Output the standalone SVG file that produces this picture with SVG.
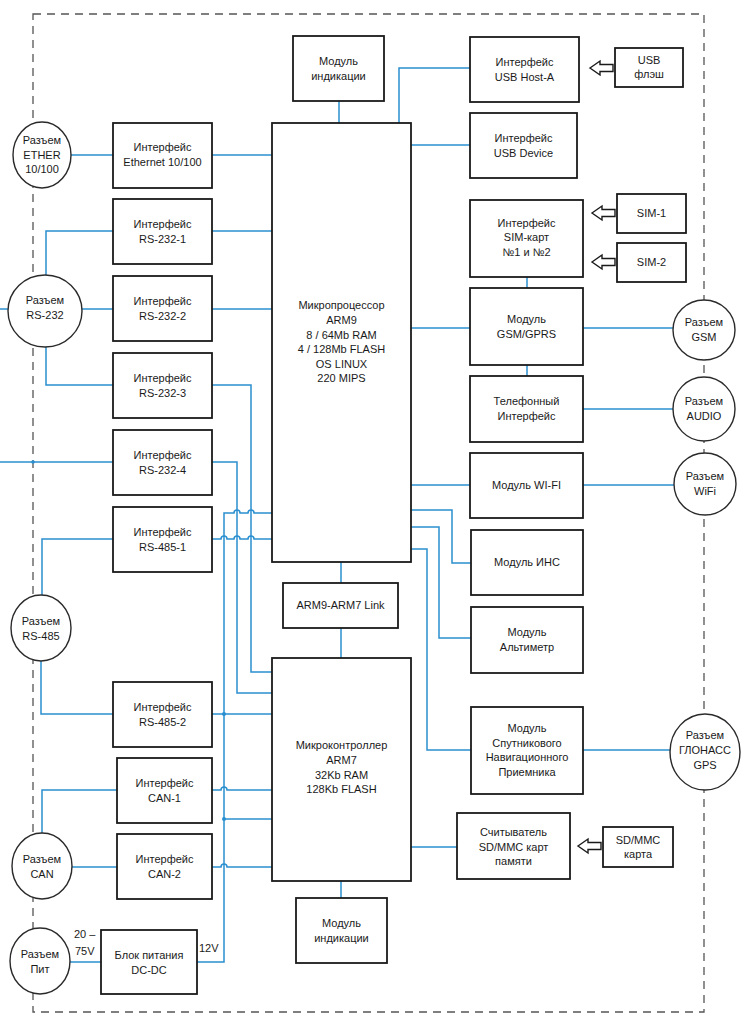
<svg xmlns="http://www.w3.org/2000/svg" xmlns:xlink="http://www.w3.org/1999/xlink" width="747" height="1024" viewBox="0 0 747 1024">
<style>
.box{fill:#fff;stroke:#1a1a1a;stroke-width:1.8}
.circ{fill:#fff;stroke:#2a2a2a;stroke-width:1.4}
.border{fill:none;stroke:#555;stroke-width:1.3;stroke-dasharray:8 6}
.w{fill:none;stroke:#2a8fd0;stroke-width:1.5}
.dot{fill:#2a8fd0}
.t{font-family:"Liberation Sans",Arial,sans-serif;font-size:11px;fill:#1a1a1a;text-anchor:middle}
.ts{font-family:"Liberation Sans",Arial,sans-serif;font-size:11px;fill:#1a1a1a;text-anchor:start}
.harrow{fill:#fff;stroke:#1a1a1a;stroke-width:1.4}
</style>
<defs>
<path id="harrow" class="harrow" d="M0,0 L10,-7 L10,-3.5 L23,-3.5 L23,3.5 L10,3.5 L10,7 Z"/>
</defs>
<rect width="747" height="1024" fill="#fff"/>
<rect id="border" class="border" x="33" y="14" width="671" height="998"/>

<g id="connectors">
<path class="w" d="M339,101 V123"/>
<path class="w" d="M470,68 H399 V123"/>
<path class="w" d="M470,145 H411"/>
<path class="w" d="M527,277 V288"/>
<path class="w" d="M527,365 V376"/>
<path class="w" d="M411,328 H470"/>
<path class="w" d="M583,328 H673"/>
<path class="w" d="M583,409 H673"/>
<path class="w" d="M411,485 H470"/>
<path class="w" d="M583,485 H674"/>
<path class="w" d="M411,510 H452 V563 H471"/>
<path class="w" d="M411,527 H439 V638 H471"/>
<path class="w" d="M411,549 H427 V750 H471"/>
<path class="w" d="M583,750 H670"/>
<path class="w" d="M411,847 H457"/>
<path class="w" d="M341,562 V583"/>
<path class="w" d="M341,628 V658"/>
<path class="w" d="M341,881 V898"/>
<path class="w" d="M71,155 H113"/>
<path class="w" d="M212,155 H272"/>
<path class="w" d="M113,231 H46 V275"/>
<path class="w" d="M82,309 H113"/>
<path class="w" d="M0,309 H8"/>
<path class="w" d="M46,347 V385 H113"/>
<path class="w" d="M0,462 H113"/>
<circle class="dot" cx="33" cy="462" r="1.8"/>
<path class="w" d="M212,231 H272"/>
<path class="w" d="M212,309 H272"/>
<path class="w" d="M212,385 H251 V672 H272"/>
<path class="w" d="M212,462 H237 V693 H272"/>
<path class="w" d="M113,539 H42 V595"/>
<path class="w" d="M41,661 V714 H113"/>
<path class="w" d="M212,539 H221 a3,3 0 0 1 6,0 H234 a3,3 0 0 1 6,0 H248 a3,3 0 0 1 6,0 H272"/>
<path class="w" d="M197,962 H224 V513 H234 a3,3 0 0 1 6,0 H248 a3,3 0 0 1 6,0 H272"/>
<path class="w" d="M212,714 H272"/>
<circle class="dot" cx="224" cy="714" r="2"/>
<path class="w" d="M224,819 H272"/>
<circle class="dot" cx="224" cy="819" r="2"/>
<path class="w" d="M117,790 H42 V833"/>
<path class="w" d="M212,790 H221 a3,3 0 0 1 6,0 H272"/>
<path class="w" d="M72,867 H117"/>
<path class="w" d="M212,867 H221 a3,3 0 0 1 6,0 H272"/>
<path class="w" d="M70,962 H101"/>
<use href="#harrow" x="590" y="68"/>
<use href="#harrow" x="592" y="213"/>
<use href="#harrow" x="592" y="262"/>
<use href="#harrow" x="578" y="846"/>
</g>

<g id="ind1"><rect class="box" x="293" y="36" width="91" height="65"/><text class="t" x="338.5" y="65">Модуль</text><text class="t" x="338.5" y="80">индикации</text></g>
<g id="usbA"><rect class="box" x="470" y="37" width="109" height="65"/><text class="t" x="524.5" y="66">Интерфейс</text><text class="t" x="524.5" y="81">USB Host-A</text></g>
<g id="usbF"><rect class="box" x="615" y="48" width="68" height="39"/><text class="t" x="649" y="64">USB</text><text class="t" x="649" y="78">флэш</text></g>
<g id="usbD"><rect class="box" x="470" y="113" width="107" height="65"/><text class="t" x="523.5" y="142">Интерфейс</text><text class="t" x="523.5" y="157">USB Device</text></g>
<g id="sim"><rect class="box" x="470" y="200" width="113" height="77"/><text class="t" x="526.5" y="227">Интерфейс</text><text class="t" x="526.5" y="241">SIM-карт</text><text class="t" x="526.5" y="256">№1 и №2</text></g>
<g id="sim1"><rect class="box" x="617" y="194" width="69" height="39"/><text class="t" x="651.5" y="217">SIM-1</text></g>
<g id="sim2"><rect class="box" x="617" y="243" width="69" height="39"/><text class="t" x="651.5" y="266">SIM-2</text></g>
<g id="gsm"><rect class="box" x="470" y="288" width="113" height="77"/><text class="t" x="526.5" y="323">Модуль</text><text class="t" x="526.5" y="338">GSM/GPRS</text></g>
<g id="tel"><rect class="box" x="470" y="376" width="113" height="66"/><text class="t" x="526.5" y="405">Телефонный</text><text class="t" x="526.5" y="420">Интерфейс</text></g>
<g id="wifi"><rect class="box" x="470" y="453" width="113" height="65"/><text class="t" x="526.5" y="489">Модуль WI-FI</text></g>
<g id="ins"><rect class="box" x="471" y="530" width="112" height="65"/><text class="t" x="527" y="566">Модуль ИНС</text></g>
<g id="alt"><rect class="box" x="471" y="607" width="112" height="66"/><text class="t" x="527" y="636">Модуль</text><text class="t" x="527" y="651">Альтиметр</text></g>
<g id="sat"><rect class="box" x="471" y="707" width="112" height="87"/><text class="t" x="527" y="732">Модуль</text><text class="t" x="527" y="747">Спутникового</text><text class="t" x="527" y="761">Навигационного</text><text class="t" x="527" y="776">Приемника</text></g>
<g id="sd"><rect class="box" x="457" y="813" width="113" height="66"/><text class="t" x="513.5" y="836">Считыватель</text><text class="t" x="513.5" y="851">SD/MMC карт</text><text class="t" x="513.5" y="865">памяти</text></g>
<g id="sdc"><rect class="box" x="603" y="827" width="70" height="40"/><text class="t" x="638" y="844">SD/MMC</text><text class="t" x="638" y="858">карта</text></g>

<g id="eth"><rect class="box" x="113" y="123" width="99" height="65"/><text class="t" x="162.5" y="151">Интерфейс</text><text class="t" x="162.5" y="166">Ethernet 10/100</text></g>
<g id="rs1"><rect class="box" x="113" y="199" width="99" height="65"/><text class="t" x="162.5" y="228">Интерфейс</text><text class="t" x="162.5" y="243">RS-232-1</text></g>
<g id="rs2"><rect class="box" x="113" y="276" width="99" height="65"/><text class="t" x="162.5" y="305">Интерфейс</text><text class="t" x="162.5" y="320">RS-232-2</text></g>
<g id="rs3"><rect class="box" x="113" y="353" width="99" height="65"/><text class="t" x="162.5" y="382">Интерфейс</text><text class="t" x="162.5" y="397">RS-232-3</text></g>
<g id="rs4"><rect class="box" x="113" y="430" width="99" height="65"/><text class="t" x="162.5" y="459">Интерфейс</text><text class="t" x="162.5" y="474">RS-232-4</text></g>
<g id="rs485a"><rect class="box" x="113" y="507" width="99" height="65"/><text class="t" x="162.5" y="536">Интерфейс</text><text class="t" x="162.5" y="551">RS-485-1</text></g>
<g id="rs485b"><rect class="box" x="113" y="682" width="99" height="65"/><text class="t" x="162.5" y="711">Интерфейс</text><text class="t" x="162.5" y="726">RS-485-2</text></g>
<g id="can1"><rect class="box" x="117" y="758" width="95" height="65"/><text class="t" x="164.5" y="787">Интерфейс</text><text class="t" x="164.5" y="802">CAN-1</text></g>
<g id="can2"><rect class="box" x="117" y="834" width="95" height="65"/><text class="t" x="164.5" y="863">Интерфейс</text><text class="t" x="164.5" y="878">CAN-2</text></g>
<g id="psu"><rect class="box" x="101" y="930" width="96" height="64"/><text class="t" x="149" y="959">Блок питания</text><text class="t" x="149" y="974">DC-DC</text>
<text class="ts" x="74" y="938">20 –</text><text class="ts" x="75" y="955">75V</text><text class="ts" x="199" y="952">12V</text></g>

<g id="arm9"><rect class="box" x="272" y="123" width="139" height="439"/>
<text class="t" x="341.5" y="309">Микропроцессор</text><text class="t" x="341.5" y="324">ARM9</text><text class="t" x="341.5" y="339">8 / 64Mb RAM</text><text class="t" x="341.5" y="353">4 / 128Mb FLASH</text><text class="t" x="341.5" y="368">OS LINUX</text><text class="t" x="341.5" y="382">220 MIPS</text></g>
<g id="link"><rect class="box" x="283" y="583" width="115" height="45"/><text class="t" x="340.5" y="609">ARM9-ARM7 Link</text></g>
<g id="arm7"><rect class="box" x="272" y="658" width="139" height="223"/>
<text class="t" x="341.5" y="749">Микроконтроллер</text><text class="t" x="341.5" y="764">ARM7</text><text class="t" x="341.5" y="779">32Kb RAM</text><text class="t" x="341.5" y="793">128Kb FLASH</text></g>
<g id="ind2"><rect class="box" x="296" y="898" width="91" height="65"/><text class="t" x="341.5" y="927">Модуль</text><text class="t" x="341.5" y="942">индикации</text></g>

<g id="c_ether"><ellipse class="circ" cx="42" cy="155" rx="29" ry="33"/><text class="t" x="42" y="144">Разъем</text><text class="t" x="42" y="159">ETHER</text><text class="t" x="42" y="173">10/100</text></g>
<g id="c_rs232"><ellipse class="circ" cx="45" cy="311" rx="37" ry="36"/><text class="t" x="45" y="304">Разъем</text><text class="t" x="45" y="319">RS-232</text></g>
<g id="c_rs485"><ellipse class="circ" cx="41" cy="628" rx="30" ry="33"/><text class="t" x="41" y="625">Разъем</text><text class="t" x="41" y="640">RS-485</text></g>
<g id="c_can"><ellipse class="circ" cx="42" cy="866" rx="30" ry="33"/><text class="t" x="42" y="863">Разъем</text><text class="t" x="42" y="878">CAN</text></g>
<g id="c_pit"><ellipse class="circ" cx="40" cy="961" rx="30" ry="33"/><text class="t" x="40" y="958">Разъем</text><text class="t" x="40" y="973">Пит</text></g>
<g id="c_gsm"><ellipse class="circ" cx="704" cy="330" rx="31" ry="30"/><text class="t" x="704" y="326">Разъем</text><text class="t" x="704" y="341">GSM</text></g>
<g id="c_audio"><ellipse class="circ" cx="704" cy="409" rx="31" ry="32"/><text class="t" x="704" y="405">Разъем</text><text class="t" x="704" y="420">AUDIO</text></g>
<g id="c_wifi"><ellipse class="circ" cx="705" cy="484" rx="31" ry="31"/><text class="t" x="705" y="480">Разъем</text><text class="t" x="705" y="495">WiFi</text></g>
<g id="c_gps"><ellipse class="circ" cx="705" cy="752" rx="35" ry="38"/><text class="t" x="705" y="739">Разъем</text><text class="t" x="705" y="754">ГЛОНАСС</text><text class="t" x="705" y="769">GPS</text></g>
</svg>
